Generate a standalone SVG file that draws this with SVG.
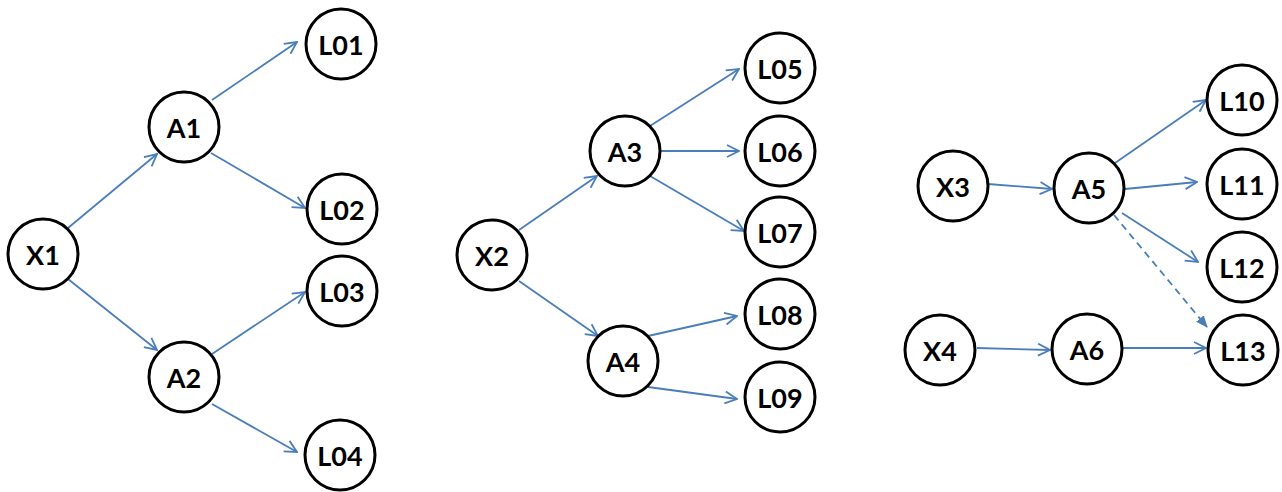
<svg xmlns="http://www.w3.org/2000/svg" width="1282" height="492" viewBox="0 0 1282 492">
<style>
.n circle{fill:#fff;stroke:#000;stroke-width:3}
.n text{font-family:Lato,"Open Sans",sans-serif;font-weight:bold;font-size:27px;text-anchor:middle;dominant-baseline:central;fill:#000}
.e line{stroke:#4A7EBB;stroke-width:1.8;fill:none}
.e .s{marker-end:url(#ao)}
.e .d{stroke-dasharray:7,5;marker-end:url(#af)}
</style>
<defs>
<marker id="ao" viewBox="0 0 14 14" refX="13" refY="7" markerWidth="14" markerHeight="14" markerUnits="userSpaceOnUse" orient="auto">
<path d="M1,1 L13,7 L1,13" fill="none" stroke="#4A7EBB" stroke-width="1.8"/>
</marker>
<marker id="af" viewBox="0 0 12 12" refX="11" refY="6" markerWidth="12" markerHeight="12" markerUnits="userSpaceOnUse" orient="auto">
<path d="M0,1 L12,6 L0,11 Z" fill="#4A7EBB"/>
</marker>
</defs>
<g id="edges" class="e">
<line class="s" x1="68" y1="228" x2="157" y2="154"/>
<line class="s" x1="212" y1="100" x2="297" y2="42"/>
<line class="s" x1="211" y1="153" x2="305" y2="208"/>
<line class="s" x1="68" y1="279" x2="157" y2="350"/>
<line class="s" x1="212" y1="354" x2="305" y2="292"/>
<line class="s" x1="212" y1="404" x2="297" y2="452"/>
<line class="s" x1="519" y1="230" x2="597" y2="176"/>
<line class="s" x1="650" y1="126" x2="739" y2="69"/>
<line class="s" x1="661" y1="151" x2="739" y2="151"/>
<line class="s" x1="650" y1="176" x2="744" y2="231"/>
<line class="s" x1="519" y1="281" x2="598" y2="336"/>
<line class="s" x1="648" y1="336" x2="737" y2="316"/>
<line class="s" x1="648" y1="387" x2="737" y2="399"/>
<line class="s" x1="988" y1="184" x2="1052" y2="189"/>
<line class="s" x1="1115" y1="163" x2="1206" y2="100"/>
<line class="s" x1="1125" y1="189" x2="1197" y2="182"/>
<line class="s" x1="1122" y1="213" x2="1198" y2="262"/>
<line class="d" x1="1114" y1="215" x2="1207" y2="327"/>
<line class="s" x1="977" y1="348" x2="1050" y2="350"/>
<line class="s" x1="1123" y1="348" x2="1206" y2="348"/>
</g>
<g id="L01" class="n"><circle cx="341" cy="44" r="35"/><text x="341" y="44">L01</text></g>
<g id="A1" class="n"><circle cx="184" cy="127" r="35"/><text x="184" y="127">A1</text></g>
<g id="L02" class="n"><circle cx="342" cy="209" r="35"/><text x="342" y="209">L02</text></g>
<g id="X1" class="n"><circle cx="43" cy="254" r="35"/><text x="43" y="254">X1</text></g>
<g id="L03" class="n"><circle cx="342" cy="291" r="35"/><text x="342" y="291">L03</text></g>
<g id="A2" class="n"><circle cx="184" cy="377" r="35"/><text x="184" y="377">A2</text></g>
<g id="L04" class="n"><circle cx="340" cy="455" r="35"/><text x="340" y="455">L04</text></g>
<g id="L05" class="n"><circle cx="780" cy="68" r="35"/><text x="780" y="68">L05</text></g>
<g id="A3" class="n"><circle cx="625" cy="151" r="35"/><text x="625" y="151">A3</text></g>
<g id="L06" class="n"><circle cx="780" cy="151" r="35"/><text x="780" y="151">L06</text></g>
<g id="L07" class="n"><circle cx="780" cy="232" r="35"/><text x="780" y="232">L07</text></g>
<g id="X2" class="n"><circle cx="492" cy="255" r="35"/><text x="492" y="255">X2</text></g>
<g id="L08" class="n"><circle cx="780" cy="314" r="35"/><text x="780" y="314">L08</text></g>
<g id="A4" class="n"><circle cx="623" cy="361" r="35"/><text x="623" y="361">A4</text></g>
<g id="L09" class="n"><circle cx="780" cy="397" r="35"/><text x="780" y="397">L09</text></g>
<g id="L10" class="n"><circle cx="1242" cy="100" r="35"/><text x="1242" y="100">L10</text></g>
<g id="X3" class="n"><circle cx="953" cy="186" r="35"/><text x="953" y="186">X3</text></g>
<g id="A5" class="n"><circle cx="1089" cy="188" r="35"/><text x="1089" y="188">A5</text></g>
<g id="L11" class="n"><circle cx="1242" cy="184" r="35"/><text x="1242" y="184">L11</text></g>
<g id="L12" class="n"><circle cx="1242" cy="267" r="35"/><text x="1242" y="267">L12</text></g>
<g id="X4" class="n"><circle cx="940" cy="350" r="35"/><text x="940" y="350">X4</text></g>
<g id="A6" class="n"><circle cx="1087" cy="349" r="35"/><text x="1087" y="349">A6</text></g>
<g id="L13" class="n"><circle cx="1243" cy="350" r="35"/><text x="1243" y="350">L13</text></g>
</svg>
